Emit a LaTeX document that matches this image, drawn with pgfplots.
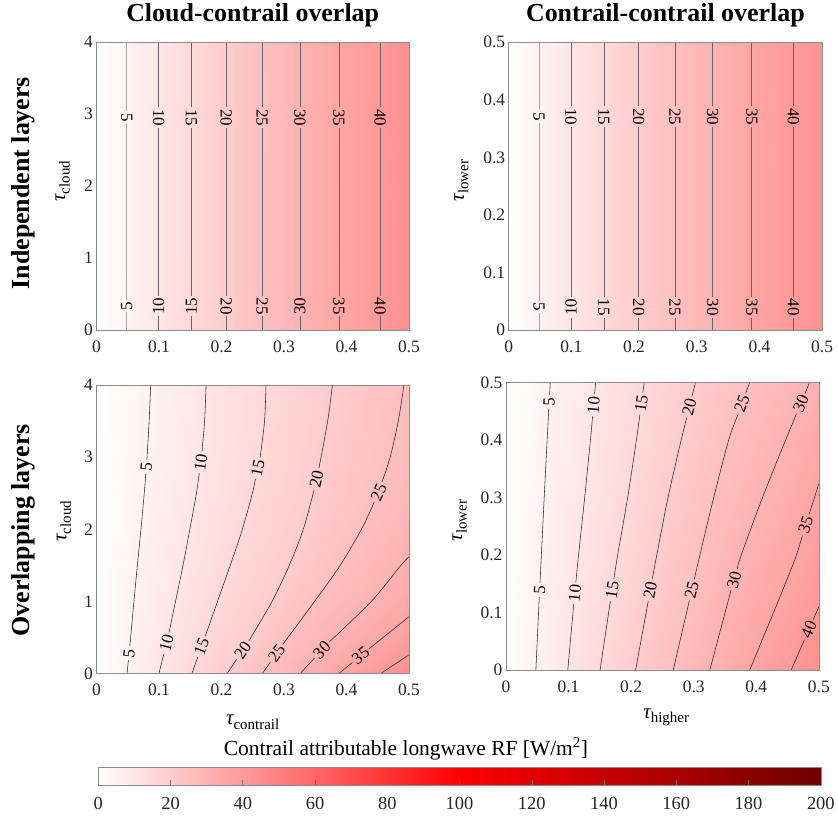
\documentclass[border=0pt]{standalone}
\usepackage{fontspec}
\setmainfont{Liberation Serif}
\usepackage{pgfplots}
\pgfplotsset{compat=1.18}
\tikzset{cl/.style={font=\fontsize{17}{17}\selectfont, inner sep=0pt}}
\pgfplotsset{
  rfmap/.style={colormap={wr}{rgb255=(255,255,255) rgb255=(255,0,0) rgb255=(110,0,0)}},
  panel/.style={
    rfmap, scale only axis, xmin=0, xmax=0.5,
    point meta min=0, point meta max=200,
    axis line style={black!45, line width=0.6pt},
    major tick length=0pt,
    xtick={0,0.1,0.2,0.3,0.4,0.5},
    ticklabel style={font=\fontsize{17.5}{17.5}\selectfont, text=black!85},
    /pgf/number format/assume math mode=true,
    xticklabel style={yshift=-7pt},
    unbounded coords=jump,
    axis on top,
    title style={font=\fontsize{26}{26}\selectfont\bfseries, at={(0.5,1)}, anchor=base, yshift=15pt},
    label style={font=\fontsize{21}{21}\selectfont},
  },
  topline/.style={draw=black!60, line width=0.6pt, no marks},
  botline/.style={draw=black!85, line width=0.55pt, no marks, smooth, tension=0.5},
}
\newcommand{\tsub}[1]{{\itshape τ}\raisebox{-4.5pt}{\fontsize{15}{15}\selectfont #1}}
\begin{document}
\begin{tikzpicture}
\path (0,0) rectangle (838pt,818pt);
\node[rotate=90, anchor=base, font=\fontsize{26}{26}\selectfont\bfseries] at (30pt,634.4pt) {Independent layers};
\node[rotate=90, anchor=base, font=\fontsize{26}{26}\selectfont\bfseries] at (30pt,286.3pt) {Overlapping layers};

% ---------------- top left
\begin{axis}[panel, at={(96.7pt,487pt)}, anchor=south west, width=313.3pt, height=288.7pt,
  ymin=0, ymax=4, ytick={0,1,2,3,4}, title={Cloud-contrail overlap},
  ylabel={\tsub{cloud}}, ylabel style={at={(axis description cs:-0.108,0.517)}, anchor=center}]
\addplot[surf, shader=interp, mesh/rows=2, mesh/cols=10, point meta=explicit] coordinates {
(0,0)[0] (0.0485,0)[5] (0.0994,0)[10] (0.1519,0)[15] (0.2074,0)[20] (0.265,0)[25] (0.3255,0)[30] (0.3878,0)[35] (0.4542,0)[40] (0.5,0)[43.4]
(0,4)[0] (0.0485,4)[5] (0.0994,4)[10] (0.1519,4)[15] (0.2074,4)[20] (0.265,4)[25] (0.3255,4)[30] (0.3878,4)[35] (0.4542,4)[40] (0.5,4)[43.4]
};
\addplot[topline, draw=black!35] coordinates {(0.0485,0) (0.0485,0.246) (0.0485,nan) (0.0485,0.426) (0.0485,2.86) (0.0485,nan) (0.0485,3.04) (0.0485,4)};
\addplot[topline] table {
x y
0.0994 0
0.0994 0.191
nan nan
0.0994 0.481
0.0994 2.805
nan nan
0.0994 3.095
0.0994 4
nan nan
0.1519 0
0.1519 0.191
nan nan
0.1519 0.481
0.1519 2.805
nan nan
0.1519 3.095
0.1519 4
nan nan
0.2074 0
0.2074 0.191
nan nan
0.2074 0.481
0.2074 2.805
nan nan
0.2074 3.095
0.2074 4
nan nan
0.265 0
0.265 0.191
nan nan
0.265 0.481
0.265 2.805
nan nan
0.265 3.095
0.265 4
nan nan
0.3255 0
0.3255 0.191
nan nan
0.3255 0.481
0.3255 2.805
nan nan
0.3255 3.095
0.3255 4
nan nan
0.3878 0
0.3878 0.191
nan nan
0.3878 0.481
0.3878 2.805
nan nan
0.3878 3.095
0.3878 4
nan nan
0.4542 0
0.4542 0.191
nan nan
0.4542 0.481
0.4542 2.805
nan nan
0.4542 3.095
0.4542 4
};
\node[cl, rotate=-90] at (axis cs:0.0485,2.95) {5};
\node[cl, rotate=-90] at (axis cs:0.0994,2.95) {10};
\node[cl, rotate=-90] at (axis cs:0.1519,2.95) {15};
\node[cl, rotate=-90] at (axis cs:0.2074,2.95) {20};
\node[cl, rotate=-90] at (axis cs:0.265,2.95) {25};
\node[cl, rotate=-90] at (axis cs:0.3255,2.95) {30};
\node[cl, rotate=-90] at (axis cs:0.3878,2.95) {35};
\node[cl, rotate=-90] at (axis cs:0.4542,2.95) {40};
\node[cl, rotate=90] at (axis cs:0.0485,0.336) {5};
\node[cl, rotate=90] at (axis cs:0.0994,0.336) {10};
\node[cl, rotate=90] at (axis cs:0.1519,0.336) {15};
\node[cl, rotate=-90] at (axis cs:0.2074,0.336) {20};
\node[cl, rotate=-90] at (axis cs:0.265,0.336) {25};
\node[cl, rotate=90] at (axis cs:0.3255,0.336) {30};
\node[cl, rotate=-90] at (axis cs:0.3878,0.336) {35};
\node[cl, rotate=-90] at (axis cs:0.4542,0.336) {40};
\end{axis}

% ---------------- top right
\begin{axis}[panel, at={(510pt,487pt)}, anchor=south west, width=314.3pt, height=288.7pt,
  ymin=0, ymax=0.5, ytick={0,0.1,0.2,0.3,0.4,0.5}, title={Contrail-contrail overlap},
  ylabel={\tsub{lower}}, ylabel style={at={(axis description cs:-0.151,0.52)}, anchor=center}]
\addplot[surf, shader=interp, mesh/rows=2, mesh/cols=10, point meta=explicit] coordinates {
(0,0)[0] (0.0485,0)[5] (0.0994,0)[10] (0.1519,0)[15] (0.2074,0)[20] (0.265,0)[25] (0.3255,0)[30] (0.3878,0)[35] (0.4542,0)[40] (0.5,0)[43.4]
(0,0.5)[0] (0.0485,0.5)[5] (0.0994,0.5)[10] (0.1519,0.5)[15] (0.2074,0.5)[20] (0.265,0.5)[25] (0.3255,0.5)[30] (0.3878,0.5)[35] (0.4542,0.5)[40] (0.5,0.5)[43.4]
};
\addplot[topline, draw=black!35] coordinates {(0.0485,0) (0.0485,0.029) (0.0485,nan) (0.0485,0.051) (0.0485,0.360) (0.0485,nan) (0.0485,0.382) (0.0485,0.5)};
\addplot[topline] table {
x y
0.0994 0
0.0994 0.022
nan nan
0.0994 0.058
0.0994 0.353
nan nan
0.0994 0.389
0.0994 0.5
nan nan
0.1519 0
0.1519 0.022
nan nan
0.1519 0.058
0.1519 0.353
nan nan
0.1519 0.389
0.1519 0.5
nan nan
0.2074 0
0.2074 0.022
nan nan
0.2074 0.058
0.2074 0.353
nan nan
0.2074 0.389
0.2074 0.5
nan nan
0.265 0
0.265 0.022
nan nan
0.265 0.058
0.265 0.353
nan nan
0.265 0.389
0.265 0.5
nan nan
0.3255 0
0.3255 0.022
nan nan
0.3255 0.058
0.3255 0.353
nan nan
0.3255 0.389
0.3255 0.5
nan nan
0.3878 0
0.3878 0.022
nan nan
0.3878 0.058
0.3878 0.353
nan nan
0.3878 0.389
0.3878 0.5
nan nan
0.4542 0
0.4542 0.022
nan nan
0.4542 0.058
0.4542 0.353
nan nan
0.4542 0.389
0.4542 0.5
};
\node[cl, rotate=-90] at (axis cs:0.0485,0.371) {5};
\node[cl, rotate=-90] at (axis cs:0.0994,0.371) {10};
\node[cl, rotate=-90] at (axis cs:0.1519,0.371) {15};
\node[cl, rotate=-90] at (axis cs:0.2074,0.371) {20};
\node[cl, rotate=-90] at (axis cs:0.265,0.371) {25};
\node[cl, rotate=-90] at (axis cs:0.3255,0.371) {30};
\node[cl, rotate=-90] at (axis cs:0.3878,0.371) {35};
\node[cl, rotate=-90] at (axis cs:0.4542,0.371) {40};
\node[cl, rotate=-90] at (axis cs:0.0485,0.040) {5};
\node[cl, rotate=90] at (axis cs:0.0994,0.040) {10};
\node[cl, rotate=-90] at (axis cs:0.1519,0.040) {15};
\node[cl, rotate=-90] at (axis cs:0.2074,0.040) {20};
\node[cl, rotate=-90] at (axis cs:0.265,0.040) {25};
\node[cl, rotate=-90] at (axis cs:0.3255,0.040) {30};
\node[cl, rotate=-90] at (axis cs:0.3878,0.040) {35};
\node[cl, rotate=-90] at (axis cs:0.4542,0.040) {40};
\end{axis}

% ---------------- bottom left
\begin{axis}[panel, at={(96.7pt,142.7pt)}, anchor=south west, width=313.3pt, height=289.3pt,
  ymin=0, ymax=4, ytick={0,1,2,3,4},
  ylabel={\tsub{cloud}}, ylabel style={at={(axis description cs:-0.104,0.528)}, anchor=center},
  xlabel={\tsub{contrail}}, xlabel style={at={(axis description cs:0.5,0)}, anchor=center, yshift=-49pt}]
\addplot[surf, shader=interp, mesh/rows=9, mesh/cols=10, point meta=explicit] coordinates {
(0,0)[0] (0.049,0)[5] (0.100,0)[10] (0.1527,0)[15] (0.209,0)[20] (0.2654,0)[25] (0.326,0)[30] (0.3878,0)[35] (0.4548,0)[40] (0.52,0)[45]
(0,0.5)[0] (0.0548,0.5)[5] (0.1145,0.5)[10] (0.1735,0.5)[15] (0.2475,0.5)[20] (0.3060,0.5)[25] (0.379,0.5)[30] (0.458,0.5)[35] (0.535,0.5)[40] (0.60,0.5)[45]
(0,1)[0] (0.0600,1)[5] (0.1265,1)[10] (0.1937,1)[15] (0.2810,1)[20] (0.3490,1)[25] (0.4398,1)[30] (0.525,1)[35] (0.59,1)[40] (0.66,1)[45]
(0,1.5)[0] (0.0655,1.5)[5] (0.1385,1.5)[10] (0.2140,1.5)[15] (0.3085,1.5)[20] (0.3900,1.5)[25] (0.487,1.5)[30] (0.57,1.5)[35] (0.64,1.5)[40] (0.71,1.5)[45]
(0,2)[0] (0.0712,2)[5] (0.1495,2)[10] (0.2335,2)[15] (0.3310,2)[20] (0.4240,2)[25] (0.525,2)[30] (0.61,2)[35] (0.68,2)[40] (0.75,2)[45]
(0,2.5)[0] (0.0765,2.5)[5] (0.1600,2.5)[10] (0.2495,2.5)[15] (0.3470,2.5)[20] (0.4510,2.5)[25] (0.56,2.5)[30] (0.64,2.5)[35] (0.71,2.5)[40] (0.78,2.5)[45]
(0,3)[0] (0.0810,3)[5] (0.1680,3)[10] (0.2620,3)[15] (0.3600,3)[20] (0.4700,3)[25] (0.585,3)[30] (0.665,3)[35] (0.74,3)[40] (0.81,3)[45]
(0,3.5)[0] (0.0843,3.5)[5] (0.1730,3.5)[10] (0.2690,3.5)[15] (0.3700,3.5)[20] (0.4830,3.5)[25] (0.605,3.5)[30] (0.685,3.5)[35] (0.76,3.5)[40] (0.83,3.5)[45]
(0,4)[0] (0.0867,4)[5] (0.1755,4)[10] (0.2713,4)[15] (0.3776,4)[20] (0.4920,4)[25] (0.62,4)[30] (0.70,4)[35] (0.78,4)[40] (0.85,4)[45]
};
\addplot[botline] table {
x y
0.049 0
0.0511 0.185
nan nan
0.0534 0.377
0.0600 1
0.0655 1.5
0.0712 2
0.0765 2.5
0.0790 2.773
nan nan
0.0807 2.966
0.0843 3.5
0.0867 4
nan nan
0.100 0
0.1078 0.270
nan nan
0.1161 0.568
0.1265 1
0.1385 1.5
0.1495 2
0.1600 2.5
0.1645 2.779
nan nan
0.1688 3.081
0.1730 3.5
0.1755 4
nan nan
0.1527 0
0.1623 0.230
nan nan
0.1741 0.516
0.1937 1
0.2140 1.5
0.2335 2
0.2495 2.5
0.2545 2.699
nan nan
0.2619 2.997
0.2690 3.5
0.2713 4
nan nan
0.209 0
0.2242 0.198
nan nan
0.2440 0.454
0.2810 1
0.3085 1.5
0.3310 2
0.3484 2.552
nan nan
0.3560 2.848
0.3700 3.5
0.3776 4
nan nan
0.2654 0
0.2784 0.160
nan nan
0.2981 0.403
0.3490 1
0.3900 1.5
0.4240 2
0.4444 2.377
nan nan
0.4569 2.655
0.4700 3
0.4830 3.5
0.4920 4
nan nan
0.326 0
0.3491 0.218
nan nan
0.3720 0.434
0.4398 1
0.487 1.5
0.5 1.618
nan nan
0.3878 0
0.4096 0.155
nan nan
0.4361 0.343
0.5 0.788
nan nan
0.4548 0
0.5 0.258
};
\node[cl, rotate=84] at (axis cs:0.0522,0.281) {5};
\node[cl, rotate=76] at (axis cs:0.1122,0.419) {10};
\node[cl, rotate=70] at (axis cs:0.1682,0.373) {15};
\node[cl, rotate=56] at (axis cs:0.2341,0.326) {20};
\node[cl, rotate=54] at (axis cs:0.2882,0.281) {25};
\node[cl, rotate=46] at (axis cs:0.3606,0.326) {30};
\node[cl, rotate=38] at (axis cs:0.4229,0.249) {35};
\node[cl, rotate=85] at (axis cs:0.0798,2.87) {5};
\node[cl, rotate=82] at (axis cs:0.1669,2.93) {10};
\node[cl, rotate=78] at (axis cs:0.2582,2.848) {15};
\node[cl, rotate=77] at (axis cs:0.3522,2.70) {20};
\node[cl, rotate=67] at (axis cs:0.4516,2.516) {25};
\end{axis}

% ---------------- bottom right
\begin{axis}[panel, at={(507.3pt,146.3pt)}, anchor=south west, width=313.7pt, height=288.4pt,
  ymin=0, ymax=0.5, ytick={0,0.1,0.2,0.3,0.4,0.5},
  ylabel={\tsub{lower}}, ylabel style={at={(axis description cs:-0.148,0.52)}, anchor=center},
  xlabel={\tsub{higher}}, xlabel style={at={(axis description cs:0.512,0)}, anchor=center, yshift=-47.5pt}]
\addplot[surf, shader=interp, mesh/rows=6, mesh/cols=10, point meta=explicit] coordinates {
(0,0)[0] (0.0478,0)[5] (0.0988,0)[10] (0.1504,0)[15] (0.2072,0)[20] (0.2673,0)[25] (0.3258,0)[30] (0.3895,0)[35] (0.4558,0)[40] (0.52,0)[45]
(0,0.1)[0] (0.0520,0.1)[5] (0.1070,0.1)[10] (0.1640,0.1)[15] (0.2240,0.1)[20] (0.2886,0.1)[25] (0.3495,0.1)[30] (0.4277,0.1)[35] (0.4945,0.1)[40] (0.56,0.1)[45]
(0,0.2)[0] (0.0566,0.2)[5] (0.1160,0.2)[10] (0.1785,0.2)[15] (0.2410,0.2)[20] (0.3100,0.2)[25] (0.3760,0.2)[30] (0.4640,0.2)[35] (0.53,0.2)[40] (0.59,0.2)[45]
(0,0.3)[0] (0.0611,0.3)[5] (0.1258,0.3)[10] (0.1945,0.3)[15] (0.2590,0.3)[20] (0.3320,0.3)[25] (0.4100,0.3)[30] (0.4929,0.3)[35] (0.56,0.3)[40] (0.62,0.3)[45]
(0,0.4)[0] (0.0658,0.4)[5] (0.1350,0.4)[10] (0.2085,0.4)[15] (0.2800,0.4)[20] (0.3560,0.4)[25] (0.4470,0.4)[30] (0.52,0.4)[35] (0.585,0.4)[40] (0.645,0.4)[45]
(0,0.5)[0] (0.0708,0.5)[5] (0.1434,0.5)[10] (0.2210,0.5)[15] (0.3028,0.5)[20] (0.3895,0.5)[25] (0.4852,0.5)[30] (0.545,0.5)[35] (0.61,0.5)[40] (0.67,0.5)[45]
};
\addplot[botline] table {
x y
0.0478 0
0.0532 0.1269
nan nan
0.0544 0.1511
0.0611 0.3
0.0658 0.4
0.0685 0.4539
nan nan
0.0697 0.4781
0.0708 0.5
nan nan
0.0988 0
0.1083 0.1145
nan nan
0.1117 0.1525
0.1160 0.2
0.1258 0.3
0.1350 0.4
0.1384 0.441
nan nan
0.1416 0.479
0.1434 0.5
nan nan
0.1504 0
0.1669 0.1202
nan nan
0.1724 0.1578
0.1785 0.2
0.1945 0.3
0.2085 0.4
0.2140 0.4441
nan nan
0.2187 0.4819
0.2210 0.5
nan nan
0.2072 0
0.2274 0.1202
nan nan
0.2338 0.1578
0.2410 0.2
0.2590 0.3
0.2800 0.4
0.2888 0.4385
nan nan
0.2972 0.4755
0.3028 0.5
nan nan
0.2673 0
0.2930 0.1204
nan nan
0.3009 0.1576
0.3100 0.2
0.3320 0.3
0.3560 0.4
0.3711 0.4451
nan nan
0.3831 0.4809
0.3895 0.5
nan nan
0.3258 0
0.3596 0.1386
nan nan
0.3694 0.1754
0.3760 0.2
0.4100 0.3
0.4470 0.4
0.4643 0.4454
nan nan
0.4778 0.4806
0.4852 0.5
nan nan
0.3895 0
0.4294 0.1047
0.4613 0.191
0.4737 0.2338
nan nan
0.4843 0.2702
0.5 0.324
nan nan
0.4558 0
0.4769 0.0525
nan nan
0.4910 0.0875
0.5 0.11
};
\node[cl, rotate=87] at (axis cs:0.0538,0.139) {5};
\node[cl, rotate=84] at (axis cs:0.1100,0.1335) {10};
\node[cl, rotate=81] at (axis cs:0.1697,0.139) {15};
\node[cl, rotate=79] at (axis cs:0.2306,0.139) {20};
\node[cl, rotate=77] at (axis cs:0.2969,0.139) {25};
\node[cl, rotate=76] at (axis cs:0.3646,0.157) {30};
\node[cl, rotate=72] at (axis cs:0.4790,0.252) {35};
\node[cl, rotate=66] at (axis cs:0.4839,0.070) {40};
\node[cl, rotate=87] at (axis cs:0.0691,0.466) {5};
\node[cl, rotate=85] at (axis cs:0.1400,0.460) {10};
\node[cl, rotate=82] at (axis cs:0.2164,0.463) {15};
\node[cl, rotate=76] at (axis cs:0.2930,0.457) {20};
\node[cl, rotate=70] at (axis cs:0.3771,0.463) {25};
\node[cl, rotate=67] at (axis cs:0.4711,0.463) {30};
\end{axis}

% ---------------- colorbar
\node[anchor=base, font=\fontsize{21.5}{21.5}\selectfont] at (407pt,61pt) {Contrail attributable longwave RF [W/m\textsuperscript{2}]};
\begin{axis}[rfmap, at={(98.5pt,31pt)}, anchor=south west, scale only axis, width=724.5pt, height=18pt,
  xmin=0, xmax=200, ymin=0, ymax=1, point meta min=0, point meta max=200,
  xtick={0,20,40,60,80,100,120,140,160,180,200}, ytick=\empty,
  tick align=inside, xtick pos=left, major tick length=5pt,
  tick style={black!55, line width=0.6pt}, axis line style={black!45, line width=0.6pt}, axis on top,
  ticklabel style={font=\fontsize{18.5}{18.5}\selectfont, text=black!85}, xticklabel style={yshift=-9pt},
  /pgf/number format/assume math mode=true]
\addplot[surf, shader=interp, mesh/rows=2, mesh/cols=11, point meta=explicit] coordinates {
(0,0)[0] (20,0)[20] (40,0)[40] (60,0)[60] (80,0)[80] (100,0)[100] (120,0)[120] (140,0)[140] (160,0)[160] (180,0)[180] (200,0)[200]
(0,1)[0] (20,1)[20] (40,1)[40] (60,1)[60] (80,1)[80] (100,1)[100] (120,1)[120] (140,1)[140] (160,1)[160] (180,1)[180] (200,1)[200]
};
\end{axis}
\end{tikzpicture}
\end{document}
